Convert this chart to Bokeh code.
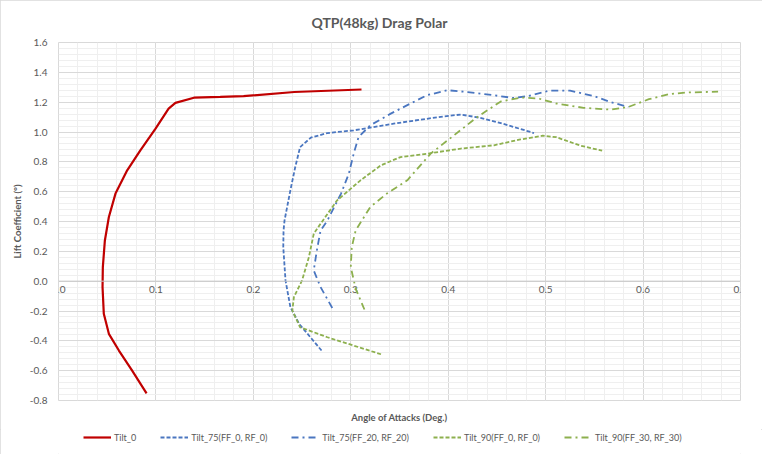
import numpy as np
from bokeh.plotting import figure
from bokeh.layouts import column
from bokeh.models import FixedTicker, Legend, LegendItem, Span, CustomJSTickFormatter
from bokeh.core.properties import value
from bokeh.embed import file_html
from bokeh.resources import INLINE

title_text = "QTP(48kg) Drag Polar"
x_title = "Angle of Attacks (Deg.)"
y_title = "Lift Coefficient (°)"

x_ticks = [0.0, 0.1, 0.2, 0.3, 0.4, 0.5, 0.6, 0.7]
x_tick_labels = ["0.0", "0.1", "0.2", "0.3", "0.4", "0.5", "0.6", "0.7"]
y_ticks = [-0.8, -0.6, -0.4, -0.2, 0.0, 0.2, 0.4, 0.6, 0.8, 1.0, 1.2, 1.4, 1.6]
x_axis_cross = 0.0

series_names = ["Tilt_0", "Tilt_75(FF_0, RF_0)", "Tilt_75(FF_20, RF_20)",
                "Tilt_90(FF_0, RF_0)", "Tilt_90(FF_30, RF_30)"]

# Tilt_0
t0_x = [0.0904, 0.0756, 0.062, 0.0517, 0.0465, 0.0452, 0.0455, 0.0476, 0.0517, 0.0585,
        0.0705, 0.084, 0.0996, 0.113, 0.120, 0.139, 0.166, 0.190, 0.242, 0.311]
t0_y = [-0.752, -0.60, -0.465, -0.353, -0.219, -0.04, 0.094, 0.273, 0.430, 0.587,
        0.743, 0.877, 1.023, 1.157, 1.195, 1.23, 1.235, 1.24, 1.268, 1.285]

# Tilt_75(FF_0, RF_0)
t75a_x = [0.270, 0.247, 0.238, 0.233, 0.2307, 0.231, 0.232, 0.238, 0.243, 0.248, 0.259,
          0.276, 0.303, 0.344, 0.372, 0.396, 0.413, 0.433, 0.454, 0.488]
t75a_y = [-0.465, -0.286, -0.174, 0.005, 0.228, 0.34, 0.407, 0.609, 0.765, 0.899, 0.962,
          0.993, 1.011, 1.056, 1.083, 1.105, 1.117, 1.095, 1.060, 0.993]

# Tilt_75(FF_20, RF_20)
t75b_x = [0.281, 0.269, 0.262, 0.265, 0.269, 0.276, 0.290, 0.298, 0.303, 0.308, 0.320,
          0.341, 0.361, 0.378, 0.399, 0.420, 0.447, 0.467, 0.481, 0.504, 0.525, 0.549,
          0.567, 0.585]
t75b_y = [-0.18, -0.04, 0.072, 0.20, 0.34, 0.407, 0.587, 0.721, 0.855, 0.966, 1.045,
          1.123, 1.19, 1.246, 1.28, 1.268, 1.246, 1.228, 1.24, 1.277, 1.277, 1.242,
          1.20, 1.168]

# Tilt_90(FF_0, RF_0)
t90a_x = [0.331, 0.276, 0.248, 0.240, 0.2416, 0.250, 0.257, 0.262, 0.269, 0.286, 0.310,
          0.331, 0.351, 0.379, 0.413, 0.447, 0.474, 0.497, 0.511, 0.536, 0.558]
t90a_y = [-0.49, -0.376, -0.309, -0.197, -0.107, 0.005, 0.161, 0.318, 0.385, 0.542, 0.676,
          0.777, 0.832, 0.855, 0.889, 0.911, 0.950, 0.975, 0.965, 0.908, 0.875]

# Tilt_90(FF_30, RF_30)
t90b_x = [0.314, 0.305, 0.300, 0.301, 0.305, 0.320, 0.337, 0.358, 0.382, 0.406, 0.430,
          0.454, 0.475, 0.493, 0.511, 0.539, 0.567, 0.585, 0.606, 0.627, 0.645, 0.677]
t90b_y = [-0.19, -0.05, 0.094, 0.228, 0.34, 0.497, 0.587, 0.676, 0.855, 0.978, 1.101,
          1.205, 1.231, 1.224, 1.191, 1.162, 1.150, 1.168, 1.22, 1.254, 1.265, 1.27]

RED = "#C00000"
BLUE = "#4A76C0"
GREEN = "#8DB04E"
TXT = "#595959"
FONT = "Lato"

styles = [dict(line_color=RED, line_width=2.2),
          dict(line_color=BLUE, line_width=1.8, line_dash="4 2"),
          dict(line_color=BLUE, line_width=1.8, line_dash="7 4 2 4"),
          dict(line_color=GREEN, line_width=1.8, line_dash="4 2"),
          dict(line_color=GREEN, line_width=1.8, line_dash="7 4 2 4")]
data = [(t0_x, t0_y), (t75a_x, t75a_y), (t75b_x, t75b_y), (t90a_x, t90a_y), (t90b_x, t90b_y)]

p = figure(width=762, height=429, x_range=(0, 0.7), y_range=(-0.8, 1.6),
           output_backend="svg", toolbar_location=None,
           min_border_left=58, min_border_right=22, min_border_top=42, min_border_bottom=29)
p.outline_line_color = "#D9D9D9"
p.background_fill_color = "white"
p.border_fill_color = "white"

p.title.text = title_text
p.title.align = "left"
p.title.offset = 253
p.title.text_font = FONT
p.title.text_font_size = "14px"
p.title.text_font_style = "bold"
p.title.text_color = TXT
p.title.standoff = 23

x_minor = list(np.round(np.arange(0, 0.7001, 0.02), 3))
y_minor = list(np.round(np.arange(-0.8, 1.6001, 0.04), 3))
xt = FixedTicker(ticks=x_ticks, minor_ticks=x_minor)
yt = FixedTicker(ticks=y_ticks, minor_ticks=y_minor)

p.xgrid.ticker = xt
p.ygrid.ticker = yt
p.yaxis.ticker = yt
for g in (p.xgrid, p.ygrid):
    g.grid_line_color = "#D9D9D9"
    g.grid_line_width = 1
    g.minor_grid_line_color = "#EFEFEF"
    g.minor_grid_line_width = 1

# bottom axis carries only the title
xa = p.xaxis[0]
xa.ticker = FixedTicker(ticks=[], minor_ticks=[])
xa.axis_line_color = None
xa.major_tick_line_color = None
xa.minor_tick_line_color = None
xa.major_tick_out = 0
xa.minor_tick_out = 0
xa.major_label_standoff = 0
xa.axis_label = x_title
xa.axis_label_text_font = FONT
xa.axis_label_text_font_size = "9.5px"
xa.axis_label_text_font_style = "bold"
xa.axis_label_text_color = TXT
xa.axis_label_standoff = 11

ya = p.yaxis[0]
ya.axis_line_color = None
ya.major_tick_line_color = None
ya.minor_tick_line_color = None
ya.major_tick_out = 0
ya.minor_tick_out = 0
ya.major_label_standoff = 11
ya.major_label_text_font = FONT
ya.major_label_text_font_size = "10px"
ya.major_label_text_color = TXT
ya.axis_label = y_title
ya.axis_label_text_font = FONT
ya.axis_label_text_font_size = "9.5px"
ya.axis_label_text_font_style = "bold"
ya.axis_label_text_color = TXT
ya.axis_label_standoff = 4
ya.formatter = CustomJSTickFormatter(code="return tick.toFixed(1);")

# horizontal axis line crossing at zero, with its tick labels
p.add_layout(Span(location=x_axis_cross, dimension="width", line_color="#C8C8C8", line_width=1))
p.text(x=x_ticks, y=[x_axis_cross] * len(x_ticks), text=x_tick_labels,
       text_align="center", text_baseline="top", y_offset=5,
       text_font=value(FONT), text_font_size="10px", text_color=TXT)

for (xs, ys), st in zip(data, styles):
    p.line(xs, ys, **st)

# legend strip below the chart (its renderers lie outside its visible range)
p2 = figure(width=762, height=25, x_range=(0, 1), y_range=(10, 11),
            output_backend="svg", toolbar_location=None, title=None,
            x_axis_type=None, y_axis_type=None, min_border=0)
p2.outline_line_color = None
p2.grid.visible = False
p2.background_fill_color = "white"
p2.border_fill_color = "white"
items = []
for name, (xs, ys), st in zip(series_names, data, styles):
    r = p2.line(xs, ys, **st)
    items.append(LegendItem(label=name, renderers=[r]))

legend = Legend(items=items, orientation="horizontal", location=(25, 11))
legend.label_text_font = FONT
legend.label_text_font_size = "9px"
legend.label_text_color = TXT
legend.glyph_width = 28
legend.glyph_height = 12
legend.label_standoff = 3
legend.spacing = 24
legend.padding = 0
legend.margin = 0
legend.border_line_color = None
legend.background_fill_alpha = 0
p2.add_layout(legend, "center")

layout = column(p, p2, spacing=0,
                styles={"outline": "1px solid #D9D9D9", "outline-offset": "-1px"})
open("out.html", "w").write(file_html(layout, INLINE))
